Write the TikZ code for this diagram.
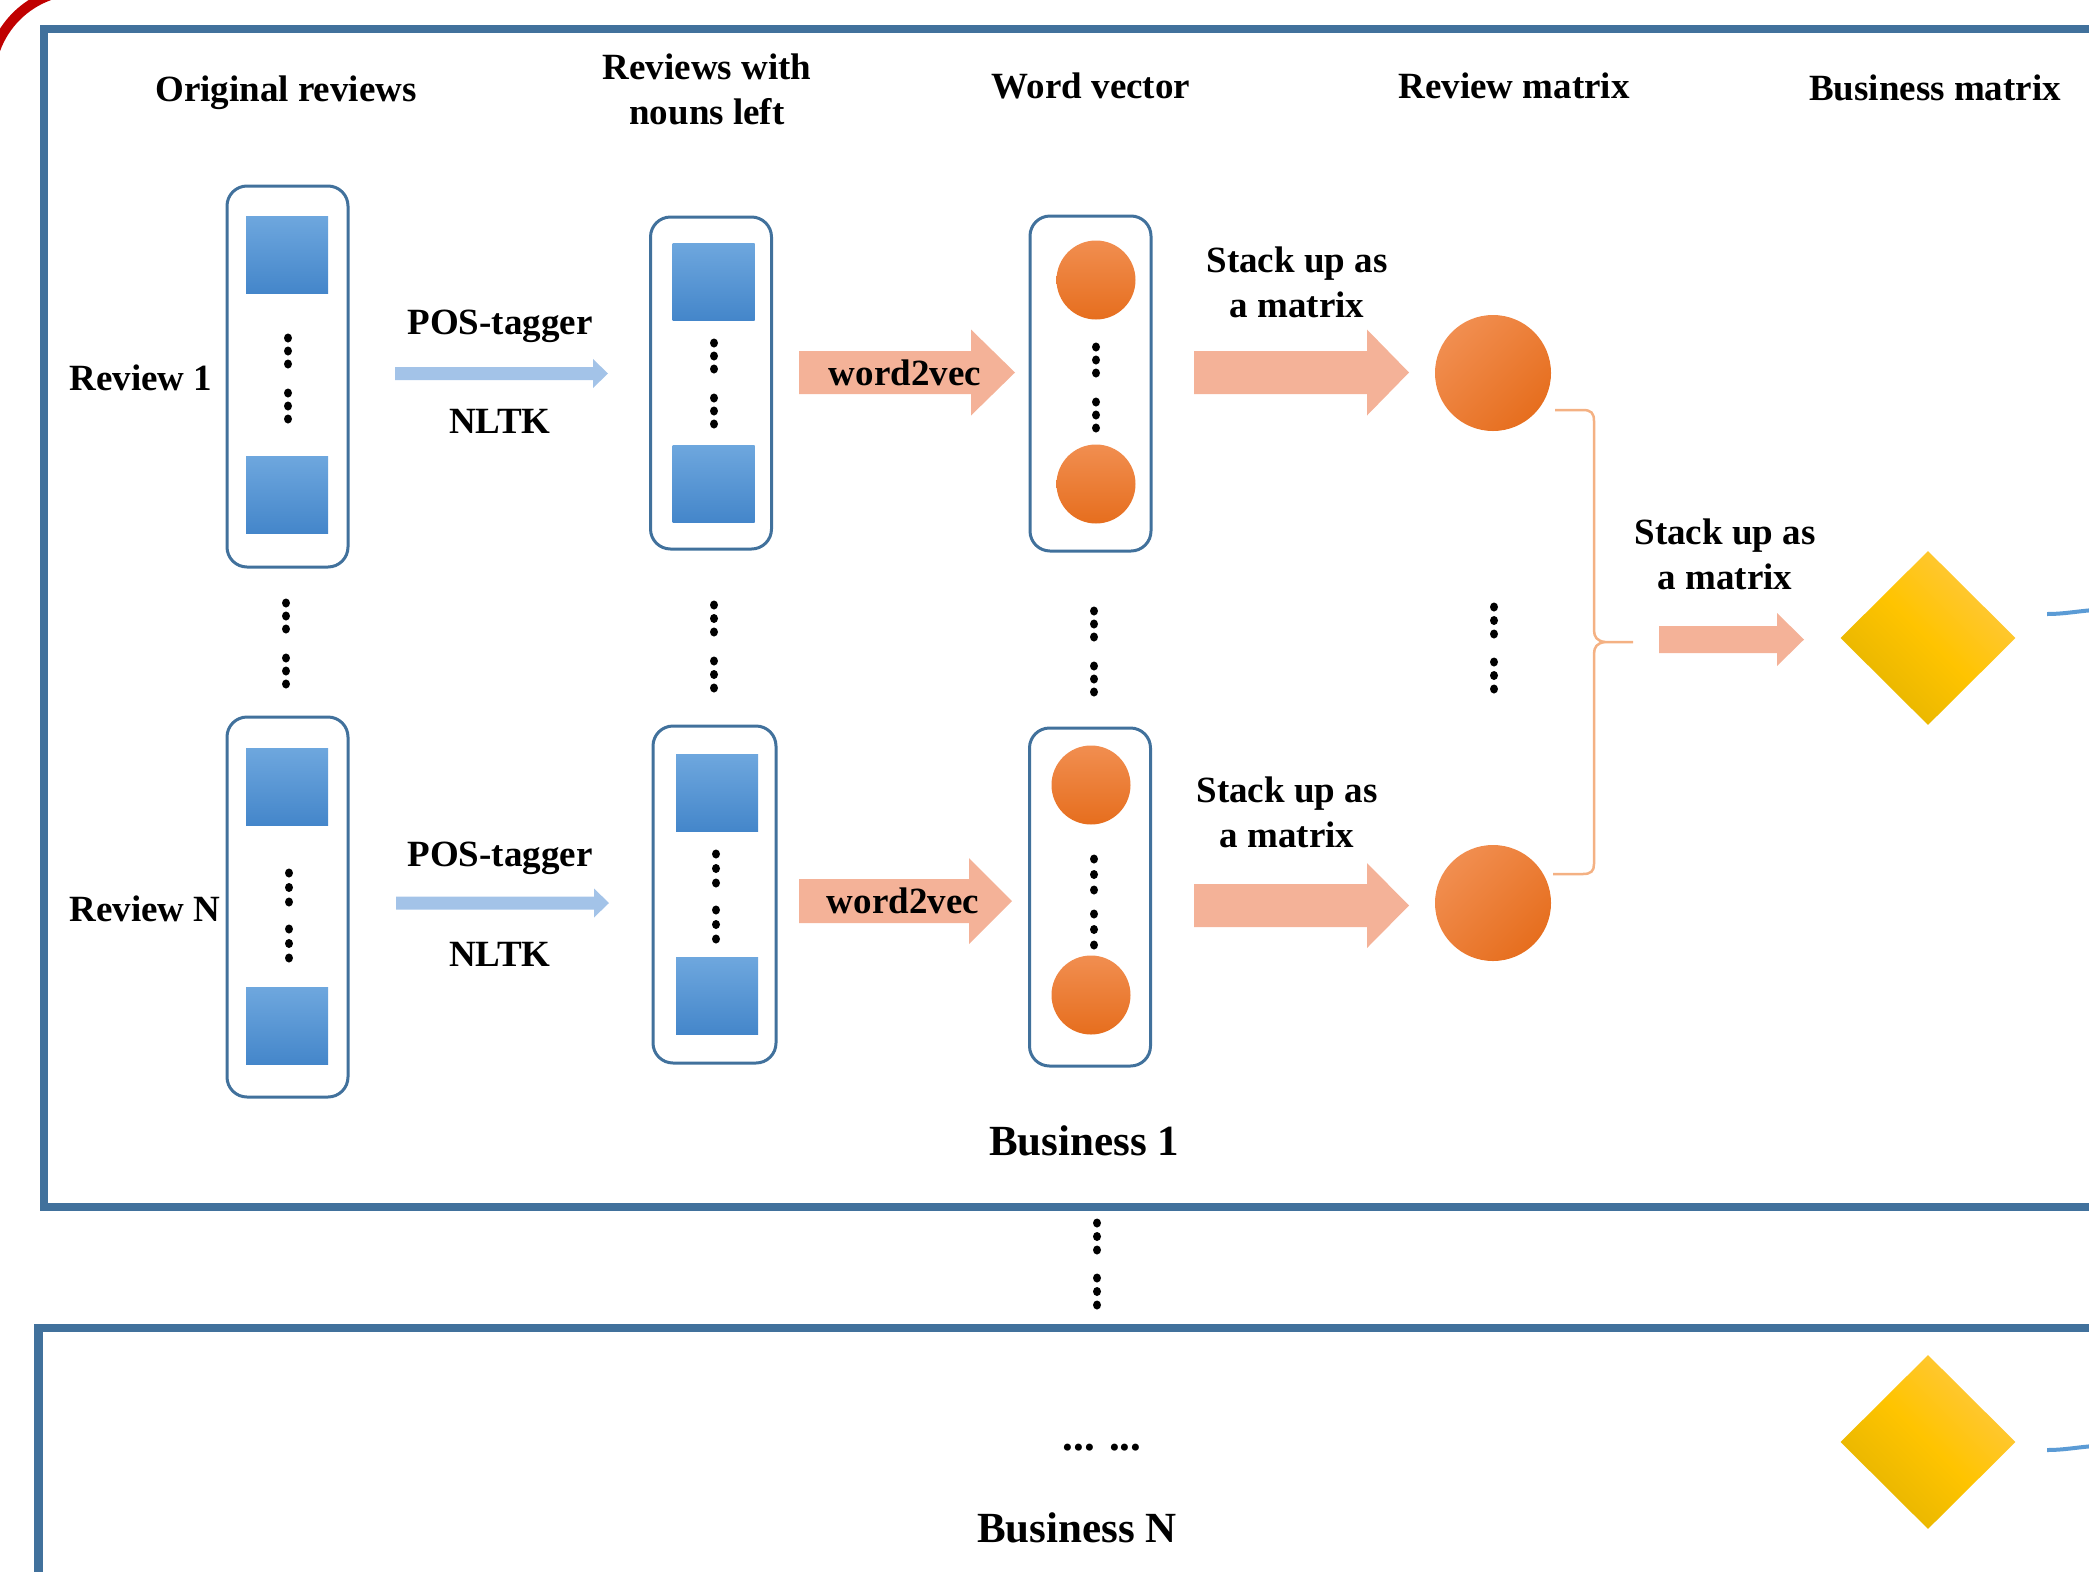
\documentclass[tikz,border=0pt]{standalone}
\usepackage{fontspec}
\setmainfont{Liberation Serif}
\usetikzlibrary{shapes.geometric,calc}
\definecolor{framec}{RGB}{65,113,156}
\definecolor{sqtop}{RGB}{110,167,222}
\definecolor{sqbot}{RGB}{68,134,202}
\definecolor{orbtop}{RGB}{241,142,80}
\definecolor{orbbot}{RGB}{230,110,30}
\definecolor{posc}{RGB}{163,195,232}
\definecolor{salmonc}{RGB}{244,178,152}
\definecolor{bracec}{RGB}{244,177,131}
\definecolor{goldl}{RGB}{228,180,0}
\definecolor{goldm}{RGB}{255,196,0}
\definecolor{goldr}{RGB}{255,200,64}
\definecolor{linkblue}{RGB}{91,155,213}
\definecolor{darkredc}{RGB}{192,0,0}
\newcommand{\bkarrow}[6]{%
  \fill[#1] (#2) ++(0,-#5) -- ++(#3,0) -- ++(0,{#5-#6}) -- ++(#4,#6) -- ++(-#4,#6) -- ++(0,{#5-#6}) -- ++(-#3,0) -- cycle;}
\newcommand{\sixdots}[4]{%
  \foreach \dk/\dg in {0/0,1/0,2/0,2/1,3/1,4/1} {\fill (#1,{#2+\dk*#3+\dg*#4}) ellipse [x radius=4pt, y radius=4.5pt];}}
\begin{document}
\begin{tikzpicture}[x=1pt,y=-1pt,
  bizframe/.style={draw=framec, line width=8.5, rectangle, inner sep=0, outer sep=0, anchor=north west},
  cont/.style={draw=framec, line width=3, rounded corners=20, fill=white, inner sep=0, outer sep=0, minimum width=121},
  sq/.style={rectangle, inner sep=0, minimum width=82, minimum height=77, top color=sqtop, bottom color=sqbot},
  orb/.style={circle, inner sep=0, minimum size=79, top color=orbtop, bottom color=orbbot},
  rmorb/.style={circle, inner sep=0, minimum size=116, top color=orbtop, bottom color=orbbot, shading angle=45},
  gem/.style={diamond, inner sep=0, minimum width=175, minimum height=174, left color=goldl, right color=goldr, middle color=goldm, shading angle=135},
  lbl/.style={font=\bfseries\fontsize{37}{45}\selectfont, inner sep=0, align=center},
  biglbl/.style={font=\bfseries\fontsize{43}{50}\selectfont, inner sep=0},
  bracepath/.style={draw=bracec, line width=2.5},
  linkpath/.style={draw=linkblue, line width=4}]
\useasboundingbox (0,0) rectangle (2089,1572);
\clip (0,0) rectangle (2089,1572);
% red arc in corner
\draw[darkredc, line width=10] (-4.6,49.2) arc[start angle=200, end angle=250, radius=90];
% business frames
\node[bizframe, minimum width=2200, minimum height=1178] (biz1) at (44,29) {};
\node[bizframe, minimum width=2200, minimum height=400] (bizN) at (38.5,1328) {};
% headers
\node[lbl, anchor=base] (h1) at (286,101) {Original reviews};
\node[lbl] (h2) at (707,89) {Reviews with\\nouns left};
\node[lbl, anchor=base] (h3) at (1091,98) {Word vector};
\node[lbl, anchor=base] (h4) at (1514,98) {Review matrix};
\node[lbl, anchor=base] (h5) at (1935,100) {Business matrix};
% row labels
\node[lbl, anchor=base] (r1) at (141,390) {Review 1};
\node[lbl, anchor=base] (rN) at (145,921) {Review N};
% containers
\node[cont, minimum height=381] (c1a) at (287.5,376.5) {};
\node[cont, minimum height=332] (c2a) at (711,383) {};
\node[cont, minimum height=335] (c3a) at (1090.5,383.5) {};
\node[cont, minimum height=380] (c1b) at (287.5,907) {};
\node[cont, minimum height=337, minimum width=123] (c2b) at (714.5,894.5) {};
\node[cont, minimum height=338] (c3b) at (1090,897) {};
% squares
\node[sq] (s1a1) at (287,254.5) {};
\node[sq] (s1a2) at (287,494.5) {};
\node[sq] (s2a1) at (713.5,281.5) {};
\node[sq] (s2a2) at (713.5,483.5) {};
\node[sq] (s1b1) at (287,786.5) {};
\node[sq] (s1b2) at (287,1026) {};
\node[sq] (s2b1) at (717,793) {};
\node[sq] (s2b2) at (717,996) {};
% word vector circles
\node[orb] (o3a1) at (1096,280) {};
\node[orb] (o3a2) at (1096,484) {};
\node[orb] (o3b1) at (1091,785) {};
\node[orb] (o3b2) at (1091,995) {};
% review matrix circles
\node[rmorb] (rm1) at (1493,373) {};
\node[rmorb] (rm2) at (1493,903) {};
% business matrix diamonds
\node[gem] (bm1) at (1928,638) {};
\node[gem] (bmN) at (1928,1442) {};
% dots
\sixdots{288}{338}{13}{29}
\sixdots{714}{343}{13}{29}
\sixdots{1096}{347}{13}{29}
\sixdots{289}{873}{14.5}{27}
\sixdots{716}{854}{14.5}{27}
\sixdots{1094}{859}{15.5}{24}
\sixdots{286}{603}{13}{29}
\sixdots{714}{605}{13.5}{29}
\sixdots{1094}{611}{13}{29}
\sixdots{1494}{607}{13.5}{28}
\sixdots{1097}{1223}{13.5}{28}
% POS-tagger arrows
\coordinate (pos1) at (395,373.5);
\coordinate (pos2) at (396,903);
\bkarrow{posc}{pos1}{198}{15}{6.5}{14.5}
\bkarrow{posc}{pos2}{198}{15}{6.5}{14.5}
\node[lbl, anchor=base] (pt1) at (500,334) {POS-tagger};
\node[lbl, anchor=base] (nl1) at (500,433) {NLTK};
\node[lbl, anchor=base] (pt2) at (500,866) {POS-tagger};
\node[lbl, anchor=base] (nl2) at (500,966) {NLTK};
% word2vec arrows
\coordinate (w2v1) at (799,372.5);
\coordinate (w2v2) at (799,901);
\bkarrow{salmonc}{w2v1}{172}{44}{21.5}{43}
\bkarrow{salmonc}{w2v2}{170}{43}{22}{43}
\node[lbl, anchor=base] (wt1) at (905,385) {word2vec};
\node[lbl, anchor=base] (wt2) at (903,913) {word2vec};
% stack arrows
\coordinate (stk1) at (1194,372.5);
\coordinate (stk2) at (1194,905.5);
\coordinate (stk3) at (1659,639.5);
\bkarrow{salmonc}{stk1}{173}{42}{21.5}{43}
\bkarrow{salmonc}{stk2}{173}{42}{21.5}{42.5}
\bkarrow{salmonc}{stk3}{118}{27}{13.5}{26.5}
\node[lbl] (sa1) at (1297,282) {Stack up as\\a matrix};
\node[lbl] (sa2) at (1287,812) {Stack up as\\a matrix};
\node[lbl] (sa3) at (1725,554) {Stack up as\\a matrix};
% brace
\coordinate (br1) at (1555,410);
\coordinate (br2) at (1553,874);
\coordinate (brtip) at (1633,642);
\draw[bracepath] (br1) -- (1583,410) .. controls (1591,410) and (1594,413) .. (1594,421) -- (1594,630) .. controls (1594,637) and (1597,641) .. (1605,642) -- (brtip);
\draw[bracepath] (1605,642) .. controls (1597,643) and (1594,647) .. (1594,654) -- (1594,864) .. controls (1594,871) and (1591,874) .. (1583,874) -- (br2);
% outgoing links
\coordinate (ln1) at (2047,614);
\coordinate (ln2) at (2047,1450);
\draw[linkpath] (ln1) .. controls (2065,614) and (2078,611) .. (2095,610);
\draw[linkpath] (ln2) .. controls (2065,1450) and (2078,1447) .. (2095,1446);
% business labels
\node[biglbl, anchor=base] (b1t) at (1084,1155) {Business 1};
\node[biglbl, anchor=base] (ell) at (1102,1450) {... ...};
\node[biglbl, anchor=base] (bNt) at (1077,1542) {Business N};
\end{tikzpicture}
\end{document}
